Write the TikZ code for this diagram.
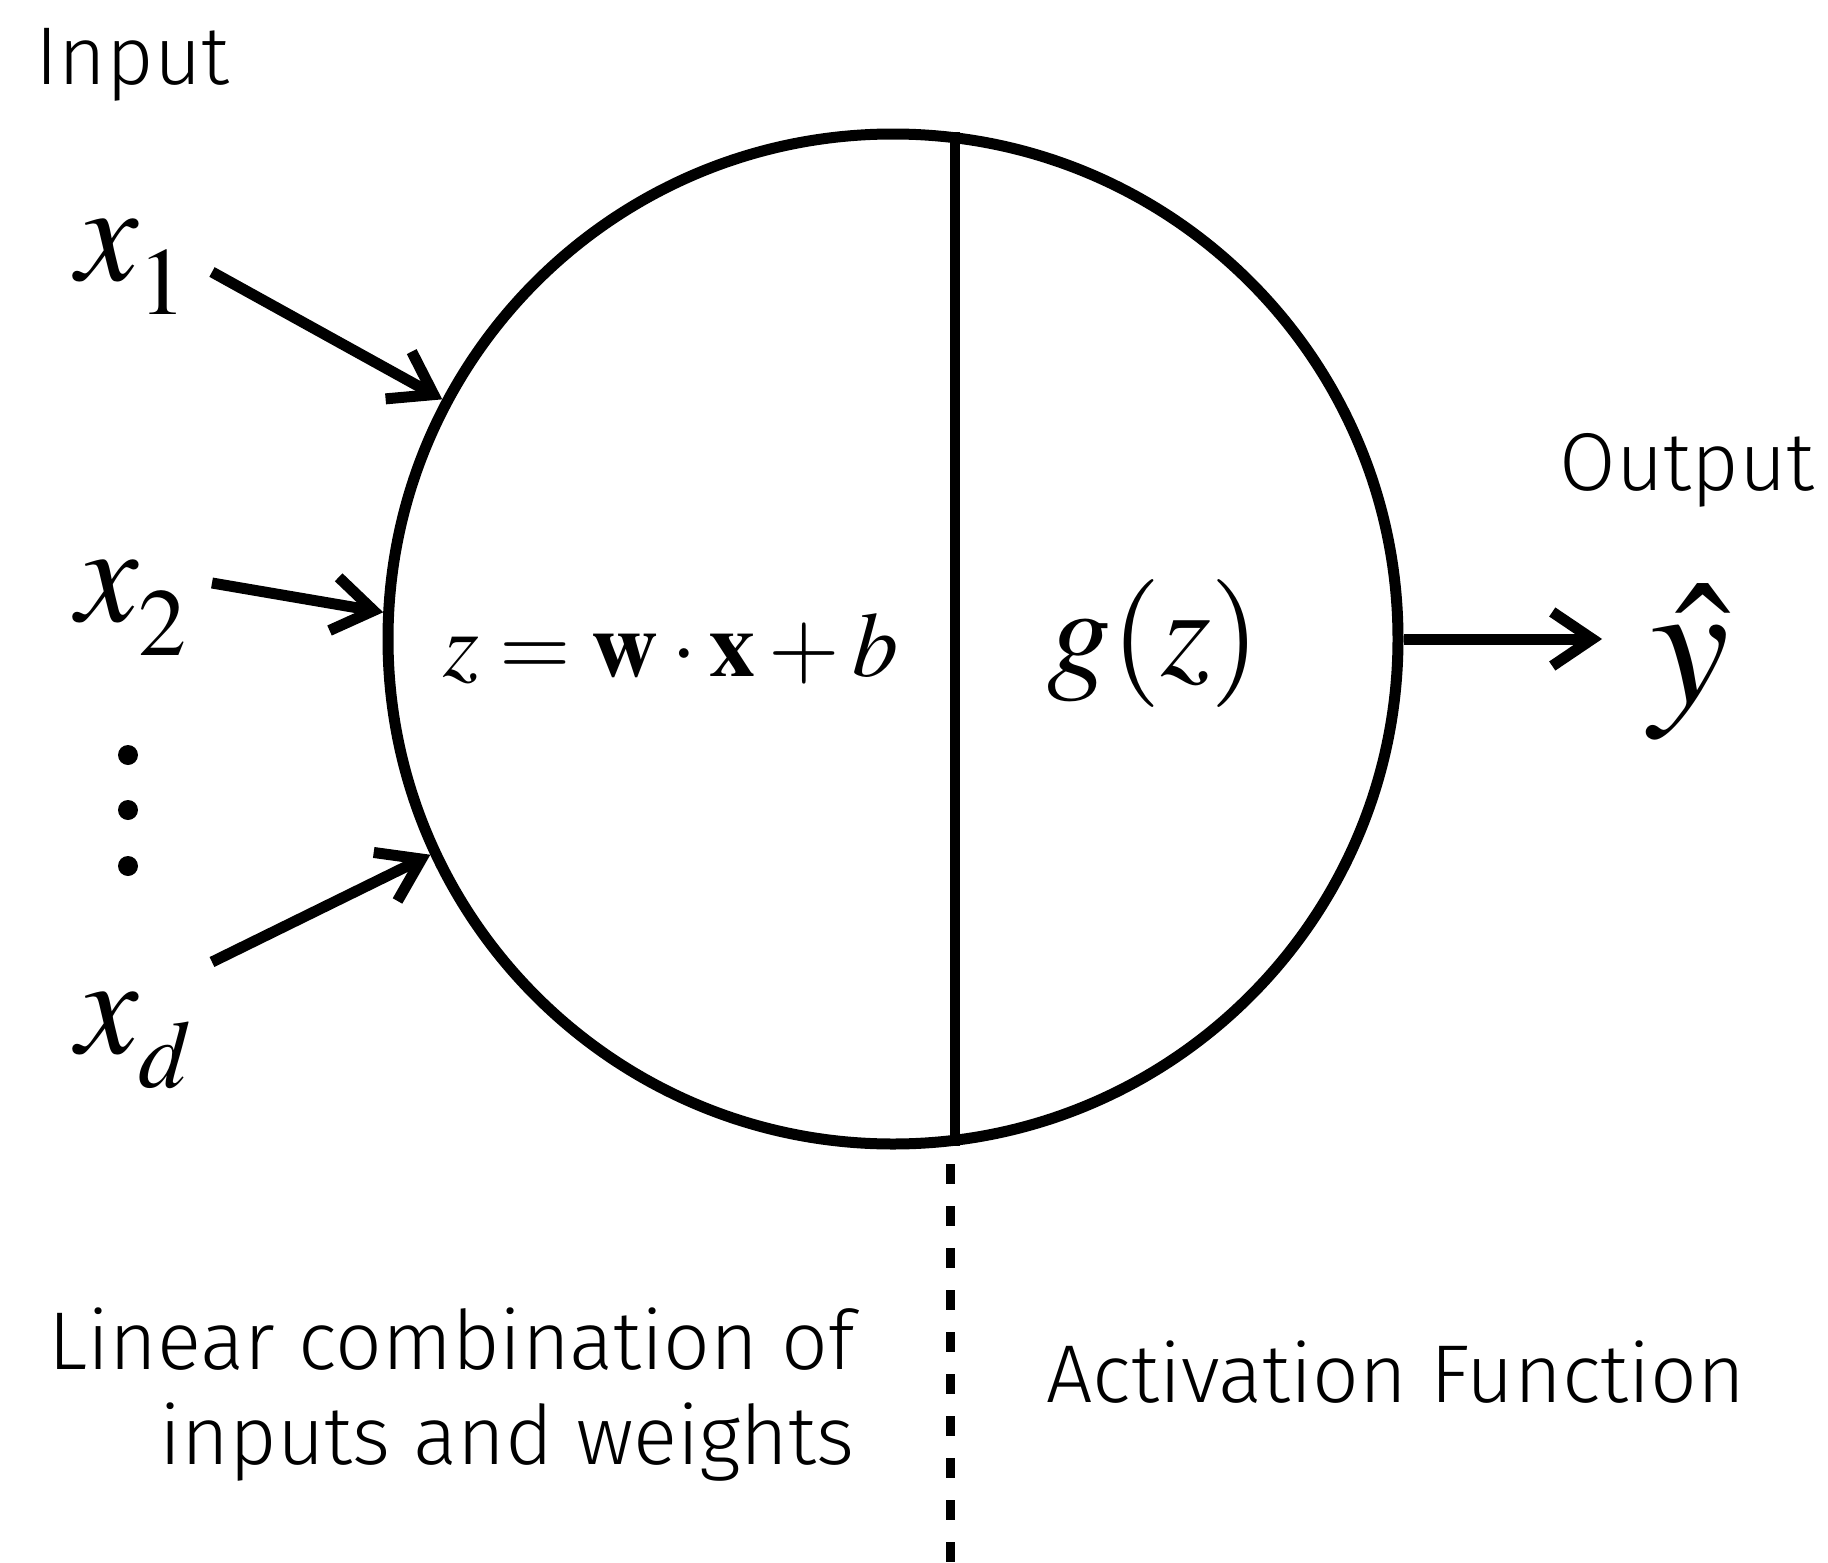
\documentclass[tikz,border=0pt]{standalone}
\usepackage{mathptmx}
\usepackage{fontspec}
\setmainfont{Fira Sans Light}
\usetikzlibrary{arrows.meta}

\newcommand{\xin}[1]{$x$\raisebox{-17pt}{\fontsize{48}{52}\selectfont$#1$}}

\begin{document}
\begin{tikzpicture}[
  x=0.5pt, y=-0.5pt,
  >={Straight Barb[length=20pt,width=27pt]},
  lbl/.style={inner sep=0pt, font=\fontsize{41}{47.5}\selectfont},
  var/.style={inner sep=0pt, font=\fontsize{70}{80}\selectfont},
  eqn/.style={inner sep=0pt, font=\fontsize{46}{54}\selectfont},
  neuron/.style={draw, circle, line width=5.5pt, minimum size=505pt,
                 inner sep=0pt},
  arr/.style={->, line width=5.5pt},
  split/.style={line width=5pt},
  divider/.style={line width=4.5pt, dash pattern=on 10pt off 11pt},
]
  \useasboundingbox (0,0) rectangle (1828,1563);

  %% Neuron with its two halves
  \node[neuron] (unit) at (893,639) {};
  \draw[split] (unit.83.5) -- (unit.-83.5);
  \coordinate (cutTop) at (950,1164);
  \coordinate (cutBot) at (950,1563);
  \draw[divider] (cutTop) -- (cutBot);

  %% Captions
  \node[lbl, anchor=base west] (inLbl) at (35,84) {Input};
  \node[lbl, anchor=base east] (outLbl) at (1815,490) {Output};
  \node[lbl, anchor=east, align=right] (linLbl) at (855,1395)
    {Linear combination of\\inputs and weights};
  \node[lbl, anchor=base west] (actLbl) at (1046,1402) {Activation Function};

  %% Inputs
  \node[var, anchor=base west] (x1) at (76,280) {\xin{1}};
  \node[var, anchor=base west] (x2) at (76,621) {\xin{2}};
  \node[var, anchor=base west] (xd) at (76,1053) {\xin{d}};
  \foreach \y in {755,810,866}
    \fill (128,\y) circle (10);

  %% Inside the neuron, and output
  \node[eqn, anchor=base] (sum) at (671,676) {$z = \mathbf{w}\cdot\mathbf{x} + b$};
  \node[var, anchor=base, font=\fontsize{64}{72}\selectfont] (act) at (1154,675) {$g(z)$};
  \node[var, anchor=center, font=\fontsize{89}{100}\selectfont] (yhat) at (1690,662) {$\hat{y}$};

  %% Arrows
  \coordinate (in1) at (212,272);
  \coordinate (in2) at (212,583);
  \coordinate (ind) at (212,962);
  \draw[arr] (in1) -- (unit.152);
  \draw[arr] (in2) -- (unit.177);
  \draw[arr] (ind) -- (unit.205);
  \draw[arr] (unit.east) -- ([xshift=-24pt]yhat.west |- unit.east);
\end{tikzpicture}
\end{document}
